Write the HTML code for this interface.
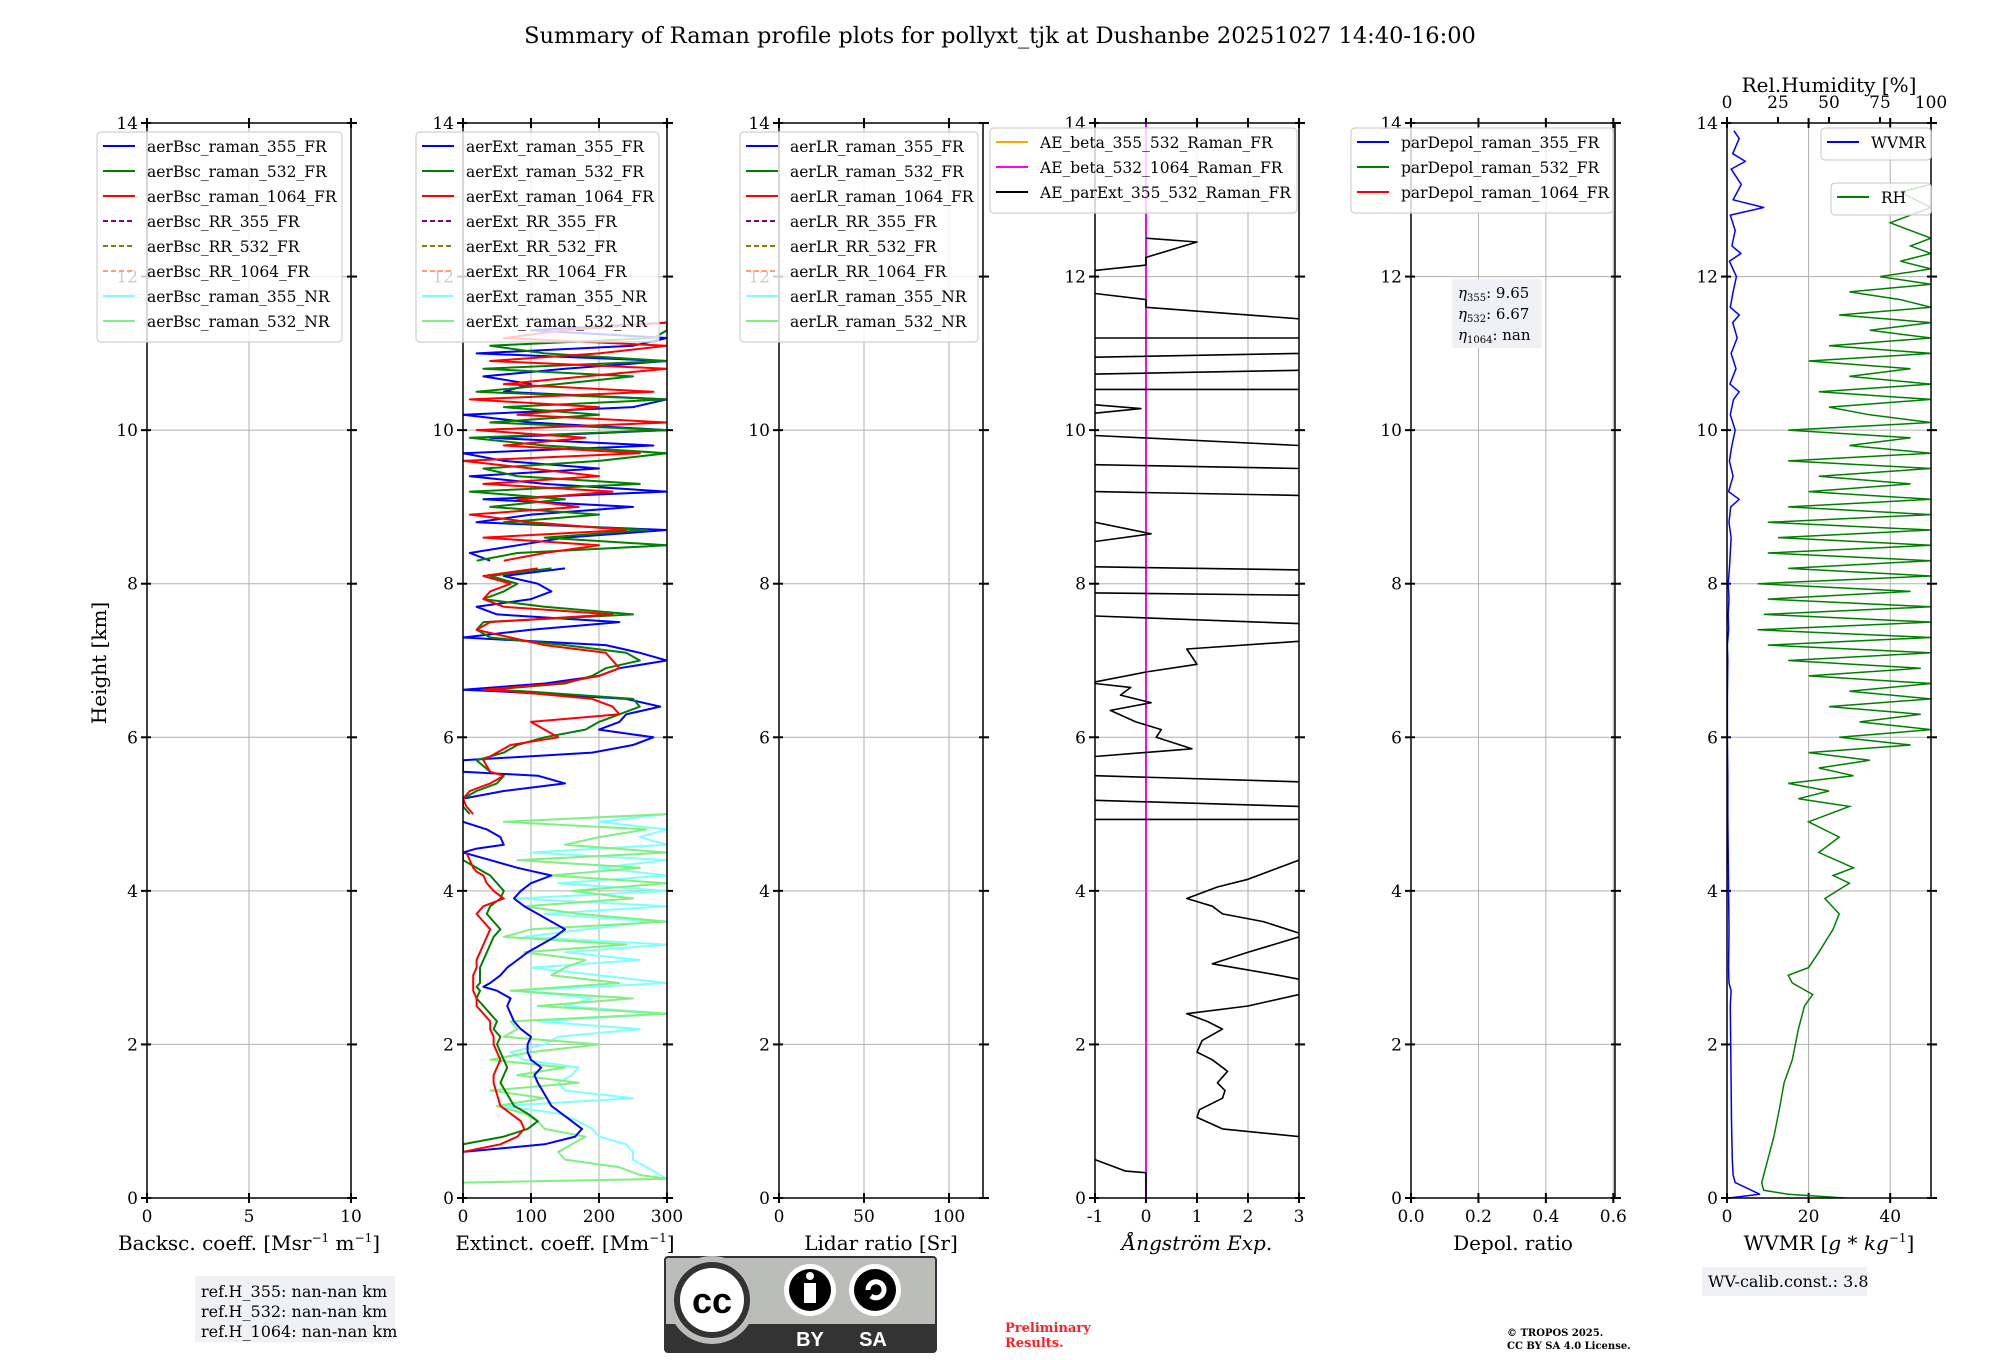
<!DOCTYPE html>
<html><head><meta charset="utf-8">
<style>
body{margin:0;background:#fff;}
svg{display:block;font-family:"DejaVu Serif","Liberation Serif",serif;}
</style></head>
<body>
<svg id="fig" width="2000" height="1360" viewBox="0 0 2000 1360" xmlns="http://www.w3.org/2000/svg">
<rect width="2000" height="1360" fill="#fff"/>
<text x="1000" y="43" font-size="22.5" text-anchor="middle">Summary of Raman profile plots for pollyxt_tjk at Dushanbe 20251027 14:40-16:00</text>
</svg>
<script>
// ---------- data ----------
const yTicks = [0,2,4,6,8,10,12,14];
const bscTicks = [0,5,10];
const extTicks = [0,100,200,300];
const lrTicks = [0,50,100];
const aeTicks = [-1,0,1,2,3];
const depTicks = [0.0,0.2,0.4,0.6];
const wvTicks = [0,20,40];
const rhTicks = [0,25,50,75,100];

const extLowH = [0.6,0.7,0.8,0.9,1.0,1.1,1.2,1.35,1.5,1.6,1.7,1.8,1.9,2.0,2.1,2.2,2.3,2.4,2.5,2.6,2.7,2.75,2.8,2.9,3.0,3.1,3.2,3.3,3.4,3.5,3.6,3.7,3.8,3.9,4.0,4.1,4.2,4.25,4.3,4.4,4.5,4.55,4.6,4.7,4.8,4.9,5.0,5.1,5.2,5.3,5.4,5.5,5.55,5.7,5.8,5.9,6.0,6.1,6.2,6.3,6.4,6.5,6.6,6.62,6.7,6.8,6.9,7.0,7.1,7.2,7.3,7.4,7.5,7.6,7.7,7.8,7.9,8.0,8.1,8.2];
const ext355Low = [0,120,165,175,160,145,130,120,110,105,115,100,95,95,100,85,75,70,65,70,50,30,40,55,65,80,95,115,135,150,130,110,90,75,85,100,130,105,80,40,0,20,60,55,35,0,null,null,0,60,150,110,0,0,190,250,280,200,230,240,290,240,50,0,120,200,230,300,260,210,0,100,230,50,20,100,130,110,60,150];
const ext532Low = [0,0,60,95,110,95,75,65,55,60,65,60,55,50,55,45,50,40,30,20,25,20,25,25,25,30,35,40,45,55,45,35,40,55,60,50,40,30,20,0,0,null,null,null,null,null,10,0,0,20,50,60,40,20,60,80,120,180,200,230,260,250,90,40,150,190,210,260,240,150,40,20,30,250,120,30,60,80,40,130];
const ext1064Low = [0,55,80,90,85,70,55,50,45,45,50,55,50,45,45,40,40,30,20,20,15,15,15,15,20,20,25,30,35,40,30,20,30,60,45,35,30,20,15,10,5,null,null,null,null,null,15,5,0,10,40,60,40,30,50,70,140,120,100,230,220,190,70,30,140,200,230,220,210,120,70,20,40,220,60,30,40,70,30,110];

const extUpH = [8.3,8.4,8.5,8.6,8.7,8.8,8.9,9.0,9.1,9.2,9.3,9.4,9.5,9.6,9.7,9.8,9.9,10.0,10.1,10.2,10.3,10.4,10.5,10.6,10.7,10.8,10.9,11.0,11.1,11.2,11.3,11.4];
const ext355Up = [40,10,80,150,300,20,100,250,30,300,120,10,200,60,0,280,40,300,100,0,250,300,60,100,30,150,300,20,250,300,100,300];
const ext532Up = [20,80,300,120,270,60,200,40,150,10,260,80,30,200,300,120,10,300,40,200,60,300,20,140,250,30,300,120,40,280,300,300];
const ext1064Up = [60,120,200,30,240,100,10,170,80,220,30,200,100,0,260,60,180,20,300,80,200,10,280,60,180,300,40,200,300,60,150,300];

const nrH = [0.2,0.25,0.3,0.4,0.5,0.6,0.7,0.8,0.9,1.0,1.1,1.2,1.3,1.4,1.5,1.6,1.7,1.8,1.9,2.0,2.1,2.2,2.3,2.4,2.5,2.6,2.7,2.8,2.9,3.0,3.1,3.2,3.3,3.4,3.5,3.6,3.7,3.8,3.9,4.0,4.1,4.2,4.3,4.4,4.5,4.6,4.7,4.8,4.9,5.0];
const ext355NR = [300,300,290,270,250,250,240,200,190,170,140,60,250,150,140,160,170,90,70,120,140,260,110,300,150,190,80,300,200,100,260,150,300,90,180,280,120,300,80,300,140,300,200,300,100,300,260,300,200,300];
const ext532NR = [0,300,260,230,150,140,160,180,120,110,90,50,120,40,170,80,150,40,100,200,60,80,70,300,110,250,70,230,130,150,180,90,240,60,100,300,170,90,250,160,300,130,260,80,300,150,200,270,60,300];

const aeH = [0.5,0.35,0.33,0.0,null,0.8,0.9,1.05,1.15,1.3,1.4,1.5,1.65,1.8,1.9,2.05,2.2,2.3,2.4,2.5,2.65,null,2.85,2.9,3.05,3.2,3.4,null,3.45,3.6,3.7,3.8,3.9,4.05,4.15,4.3,4.4,null,4.93,4.93,null,5.18,5.1,null,5.5,5.42,null,5.75,5.85,6.0,6.1,6.2,6.35,6.45,6.55,6.65,6.7,null,6.72,6.85,6.95,7.15,7.25,null,7.58,7.48,null,7.88,7.85,null,8.22,8.18,null,8.55,8.65,8.8,null,8.85,null,9.2,9.15,null,9.55,9.5,null,9.93,9.8,null,10.22,10.28,10.33,null,10.53,10.53,null,10.73,10.78,null,10.95,11.0,null,11.2,11.2,null,11.78,11.7,11.6,11.45,null,12.08,12.15,12.25,12.45,12.45,12.5];
const aeV = [-1,-0.4,0,0,null,3,1.5,1.0,1.05,1.5,1.55,1.4,1.6,1.3,1.0,1.1,1.5,1.2,0.8,2.0,3,null,3,2.6,1.3,2.0,3,null,3,2.3,1.5,1.3,0.8,1.4,2.0,2.6,3,null,-1,3,null,-1,3,null,-1,3,null,-1,0.9,0.2,0.3,-0.2,-0.7,0.1,-0.5,-0.3,-1,null,-1,0,1,0.8,3,null,-1,3,null,-1,3,null,-1,3,null,-1,0.1,-1,null,3,null,-1,3,null,-1,3,null,-1,3,null,-1,-0.1,-1,null,-1,3,null,-1,3,null,-1,3,null,-1,3,null,-1,0,0,3,null,-1,0,0,1,1,0];

const wvH = [0,0.05,0.1,0.2,0.3,0.5,1.0,1.5,2.0,2.5,2.7,2.8,3.0,3.5,4.0,4.5,5.0,5.5,6.0,6.5,7.0,7.2,7.4,7.6,7.8,8.0,8.2,8.4,8.6,8.8,9.0,9.1,9.2,9.4,9.6,9.8,10.0,10.2,10.4,10.5,10.6,10.8,11.0,11.2,11.4,11.5,11.6,11.8,12.0,12.2,12.3,12.4,12.6,12.8,12.9,13.0,13.2,13.4,13.5,13.6,13.8,13.9];
const wvV = [0.5,8,6,2,1.5,1.3,1.1,1.0,0.9,0.8,1.0,0.5,0.4,0.5,0.4,0.3,0.2,0.2,0.1,0.1,0.2,0.1,0.4,0.3,0.5,0.3,0.6,0.8,1.0,0.5,0.9,3,0.4,1.5,0.6,1.2,2,0.8,1.6,3,0.7,2.2,1.0,2.5,1.4,3,0.8,1.5,2.3,0.6,3.4,1.2,2.0,0.8,9,1.5,3.5,1.0,4.5,1.4,3,1.7];

const rhH = [0,0.05,0.1,0.2,0.3,0.5,0.8,1.2,1.5,1.8,2.2,2.5,2.65,2.8,2.9,3.0,3.2,3.5,3.7,3.9,4.1,4.2,4.3,4.5,4.7,4.9,5.1,5.2,5.3,5.4,5.5,5.6,5.7,5.8,5.9,6.0,6.1,6.2,6.3,6.4,6.5,6.6,6.7,6.8,6.9,7.0,7.1,7.2,7.3,7.4,7.5,7.6,7.7,7.8,7.9,8.0,8.1,8.2,8.3,8.4,8.5,8.6,8.7,8.8,8.9,9.0,9.1,9.2,9.3,9.4,9.5,9.6,9.7,9.8,9.9,10.0,10.1,10.2,10.3,10.4,10.5,10.6,10.7,10.8,10.9,11.0,11.1,11.2,11.3,11.4,11.5,11.6,11.7,11.8,11.9,12.0,12.1,12.2,12.3,12.4,12.5,12.7,12.9,13.1,13.2];
const rhV = [58,30,18,17,18,20,23,26,28,32,35,38,42,32,30,40,45,52,55,48,60,52,62,45,55,40,60,35,50,30,62,45,70,40,90,55,100,65,95,50,100,60,100,40,95,30,100,20,100,15,100,18,100,20,90,15,100,30,100,20,100,25,100,20,100,30,100,40,90,45,100,30,100,60,90,30,100,70,50,100,45,100,60,90,40,100,50,100,70,100,55,100,85,60,100,75,100,85,100,90,100,80,100,85,100];

// ---------- geometry ----------
const NS = 'http://www.w3.org/2000/svg';
const svg = document.getElementById('fig');
const TOP = 123, BOT = 1198, PW = 204;
const lefts = [147,463,779,1095,1411,1727];
function yS(h){ return BOT - h/14*(BOT-TOP); }
function mk(tag, attrs, parent){
  const e = document.createElementNS(NS, tag);
  for (const k in attrs) e.setAttribute(k, attrs[k]);
  (parent||svg).appendChild(e);
  return e;
}
function xScale(i, min, max){ return v => lefts[i] + (v-min)/(max-min)*PW; }

const panelCfg = [
  {min:0,max:10,ticks:bscTicks,label:'Backsc. coeff. [Msr<tspan dy="-8" font-size="12">−1</tspan><tspan dy="8"> m</tspan><tspan dy="-8" font-size="12">−1</tspan><tspan dy="8">]</tspan>',name:'backscatter'},
  {min:0,max:300,ticks:extTicks,label:'Extinct. coeff. [Mm<tspan dy="-8" font-size="12">−1</tspan><tspan dy="8">]</tspan>',name:'extinction'},
  {min:0,max:120,ticks:lrTicks,label:'Lidar ratio [Sr]',name:'lidar-ratio'},
  {min:-1,max:3,ticks:aeTicks,label:'<tspan font-style="italic">Ångström Exp.</tspan>',name:'angstrom'},
  {min:0,max:0.605,ticks:depTicks,label:'Depol. ratio',name:'depol'},
  {min:0,max:50,ticks:wvTicks,label:'WVMR [<tspan font-style="italic">g</tspan> * <tspan font-style="italic">kg</tspan><tspan dy="-8" font-size="12">−1</tspan><tspan dy="8">]</tspan>',name:'wvmr'}
];

const defs = mk('defs',{});
panelCfg.forEach((p,i)=>{
  const cp = mk('clipPath',{id:'clip'+i},defs);
  mk('rect',{x:lefts[i],y:TOP,width:PW,height:BOT-TOP},cp);
});

panelCfg.forEach((p,i)=>{
  const g = mk('g',{});
  
  
  const xs = xScale(i,p.min,p.max);
  p.ticks.forEach(t=>{
    mk('line',{x1:xs(t),x2:xs(t),y1:TOP,y2:BOT,stroke:'#b0b0b0','stroke-width':1},g);
    const tl = mk('text',{x:xs(t),y:BOT+24,'font-size':17,'text-anchor':'middle'},g);
    tl.textContent = (i===4)? t.toFixed(1) : String(t);
    
    
    mk('line',{x1:xs(t),x2:xs(t),y1:BOT-5,y2:BOT+5,stroke:'#000','stroke-width':2},g);
    mk('line',{x1:xs(t),x2:xs(t),y1:TOP-5,y2:TOP+5,stroke:'#000','stroke-width':2},g);
  });
  yTicks.forEach(t=>{
    if (t>0 && t<14) mk('line',{x1:lefts[i],x2:lefts[i]+PW,y1:yS(t),y2:yS(t),stroke:'#b0b0b0','stroke-width':1},g);
    mk('line',{x1:lefts[i]-6,x2:lefts[i]+4,y1:yS(t),y2:yS(t),stroke:'#000','stroke-width':2},g);
    mk('line',{x1:lefts[i]+PW-4,x2:lefts[i]+PW+6,y1:yS(t),y2:yS(t),stroke:'#000','stroke-width':2},g);
    const yl = mk('text',{x:lefts[i]-9,y:yS(t)+6,'font-size':17,'text-anchor':'end'},g);
    yl.textContent = String(t);
    
    
  });
  const xl = mk('text',{x:lefts[i]+PW/2,y:BOT+52,'font-size':20,'text-anchor':'middle'},g);
  xl.innerHTML = p.label;
  
  
});

function series(i, hs, vs, color, w, name, dash){
  const p = panelCfg[i];
  const xs = xScale(i,p.min,p.max);
  let d='', pen=false;
  for (let k=0;k<hs.length;k++){
    if (hs[k]===null || vs[k]===null){ pen=false; continue; }
    d += (pen?'L':'M') + xs(vs[k]).toFixed(1)+','+yS(hs[k]).toFixed(1);
    pen = true;
  }
  const a = {d:d,fill:'none',stroke:color,'stroke-width':w,'clip-path':'url(#clip'+i+')','stroke-linejoin':'round'};
  if (dash) a['stroke-dasharray']=dash;
  const el = mk('path',a);
  
  
  return el;
}

series(1,nrH,ext355NR,'#80ffff',2,'ext-355-nr-line');
series(1,nrH,ext532NR,'#80f080',2,'ext-532-nr-line');
series(1,extLowH,ext355Low,'#0000ff',2,'ext-355-fr-line');
series(1,extLowH,ext532Low,'#008000',2,'ext-532-fr-line');
series(1,extLowH,ext1064Low,'#ff0000',2,'ext-1064-fr-line');
series(1,extUpH,ext355Up,'#0000ff',2,'ext-355-fr-upper-line');
series(1,extUpH,ext532Up,'#008000',2,'ext-532-fr-upper-line');
series(1,extUpH,ext1064Up,'#ff0000',2,'ext-1064-fr-upper-line');

const magH = [0,14], magV = [0,0];
series(3,magH,magV,'#ff00ff',2,'ae-beta-532-1064-line');
series(3,aeH,aeV,'#000000',1.6,'ae-parext-355-532-line');

series(5,wvH,wvV,'#0000ff',1.5,'wvmr-line');
(function(){
  const xs = v => lefts[5] + v/100*PW;
  let d='';
  rhH.forEach((h,k)=>{ d += (k?'L':'M')+xs(rhV[k]).toFixed(1)+','+yS(h).toFixed(1); });
  const el = mk('path',{d:d,fill:'none',stroke:'#008000','stroke-width':1.5,'clip-path':'url(#clip5)'});
  
  
  rhTicks.forEach(t=>{
    mk('line',{x1:xs(t),x2:xs(t),y1:TOP-6,y2:TOP,stroke:'#000','stroke-width':2});
    const tl = mk('text',{x:xs(t),y:TOP-15,'font-size':17,'text-anchor':'middle'});
    tl.textContent = String(t);
    
    
  });
  const tt = mk('text',{x:lefts[5]+PW/2,y:92,'font-size':20,'text-anchor':'middle'});
  tt.textContent = 'Rel.Humidity [%]';
  
  
})();

panelCfg.forEach((p,i)=>{
  const r = mk('rect',{x:lefts[i],y:TOP,width:PW,height:BOT-TOP,fill:'none',stroke:'#000','stroke-width':1.5});
  
  
});

function legend(x,y,w,entries,name,rowH){
  rowH = rowH||25;
  const g = mk('g',{});
  
  
  mk('rect',{x:x,y:y,width:w,height:entries.length*rowH+10,rx:4,fill:'#fff','fill-opacity':0.8,stroke:'#d0d0d0','stroke-width':1.2},g);
  entries.forEach((e,k)=>{
    const cy = y+14+k*rowH;
    const a = {x1:x+6,x2:x+38,y1:cy,y2:cy,stroke:e[1],'stroke-width':2};
    if (e[2]) a['stroke-dasharray']='5,3';
    mk('line',a,g);
    const t = mk('text',{x:x+50,y:cy+6,'font-size':15.5},g);
    t.textContent = e[0];
    
    
  });
}
function eight(pre){ return [
  [pre+'_raman_355_FR','#0000ff'],[pre+'_raman_532_FR','#008000'],[pre+'_raman_1064_FR','#ff0000'],
  [pre+'_RR_355_FR','#800080',1],[pre+'_RR_532_FR','#808000',1],[pre+'_RR_1064_FR','#ffa07a',1],
  [pre+'_raman_355_NR','#80ffff'],[pre+'_raman_532_NR','#80f080']]; }
legend(97,132,245,eight('aerBsc'),'backscatter-legend');
legend(416,132,243,eight('aerExt'),'extinction-legend');
legend(740,132,238,eight('aerLR'),'lidar-ratio-legend');
legend(990,128,307,[['AE_beta_355_532_Raman_FR','#ffa500'],['AE_beta_532_1064_Raman_FR','#ff00ff'],['AE_parExt_355_532_Raman_FR','#000000']],'angstrom-legend');
legend(1351,128,262,[['parDepol_raman_355_FR','#0000ff'],['parDepol_raman_532_FR','#008000'],['parDepol_raman_1064_FR','#ff0000']],'depol-legend');
legend(1821,128,110,[['WVMR','#0000ff']],'wvmr-legend',22);
legend(1831,183,100,[['RH','#008000']],'rh-legend',22);
</script>

<svg style="position:absolute;left:0;top:0" width="2000" height="1360" xmlns="http://www.w3.org/2000/svg" font-family="DejaVu Serif, Liberation Serif, serif">
  <text transform="translate(106,663) rotate(-90)" font-size="20" text-anchor="middle">Height [km]</text>
  <g>
    <rect x="1452" y="279" width="90" height="69" fill="#f0f1f5" rx="3"/>
    <text x="1458" y="298" font-size="15"><tspan font-style="italic">η</tspan><tspan font-size="10" dy="3">355</tspan><tspan dy="-3">: 9.65</tspan></text>
    <text x="1458" y="319" font-size="15"><tspan font-style="italic">η</tspan><tspan font-size="10" dy="3">532</tspan><tspan dy="-3">: 6.67</tspan></text>
    <text x="1458" y="340" font-size="15"><tspan font-style="italic">η</tspan><tspan font-size="10" dy="3">1064</tspan><tspan dy="-3">: nan</tspan></text>
  </g>
  <g>
    <rect x="195" y="1276" width="200" height="66" fill="#f0f1f5"/>
    <text x="201" y="1297" font-size="16">ref.H_355: nan-nan km</text>
    <text x="201" y="1317" font-size="16">ref.H_532: nan-nan km</text>
    <text x="201" y="1337" font-size="16">ref.H_1064: nan-nan km</text>
  </g>
  <g>
    <rect x="665" y="1257" width="271" height="95" rx="3" fill="#bbbdb9" stroke="#333" stroke-width="2"/>
    <rect x="666" y="1324" width="269" height="27" fill="#333"/>
    <circle cx="712" cy="1300" r="44" fill="#bbbdb9"/>
    <circle cx="712" cy="1300" r="38" fill="#333"/>
    <circle cx="712" cy="1300" r="32" fill="#fff"/>
    <text x="712" y="1313" font-family="Liberation Sans, sans-serif" font-weight="bold" font-size="36" text-anchor="middle" fill="#000">cc</text>
    <circle cx="810" cy="1290" r="26" fill="#fff"/>
    <circle cx="810" cy="1290" r="21" fill="#000"/>
    <circle cx="810" cy="1276" r="4" fill="#fff"/>
    <rect x="804" y="1283" width="12" height="20" fill="#fff"/>
    <circle cx="875" cy="1290" r="26" fill="#fff"/>
    <circle cx="875" cy="1290" r="21" fill="#000"/>
    <path d="M868 1290 a8 8 0 1 1 3 6" fill="none" stroke="#fff" stroke-width="5"/>
    <text x="810" y="1346" font-family="Liberation Sans, sans-serif" font-weight="bold" font-size="20" text-anchor="middle" fill="#fff">BY</text>
    <text x="873" y="1346" font-family="Liberation Sans, sans-serif" font-weight="bold" font-size="20" text-anchor="middle" fill="#fff">SA</text>
  </g>
  <text x="1005" y="1332" font-size="13" font-weight="bold" fill="#ff2020">Preliminary</text>
  <text x="1005" y="1347" font-size="13" font-weight="bold" fill="#ff2020">Results.</text>
  <text x="1507" y="1336" font-size="10" font-weight="bold">© TROPOS 2025.</text>
  <text x="1507" y="1349" font-size="10" font-weight="bold">CC BY SA 4.0 License.</text>
  <g>
    <rect x="1702" y="1267" width="165" height="29" fill="#f0f1f5"/>
    <text x="1708" y="1287" font-size="16">WV-calib.const.: 3.8</text>
  </g>
</svg>
</body></html>
